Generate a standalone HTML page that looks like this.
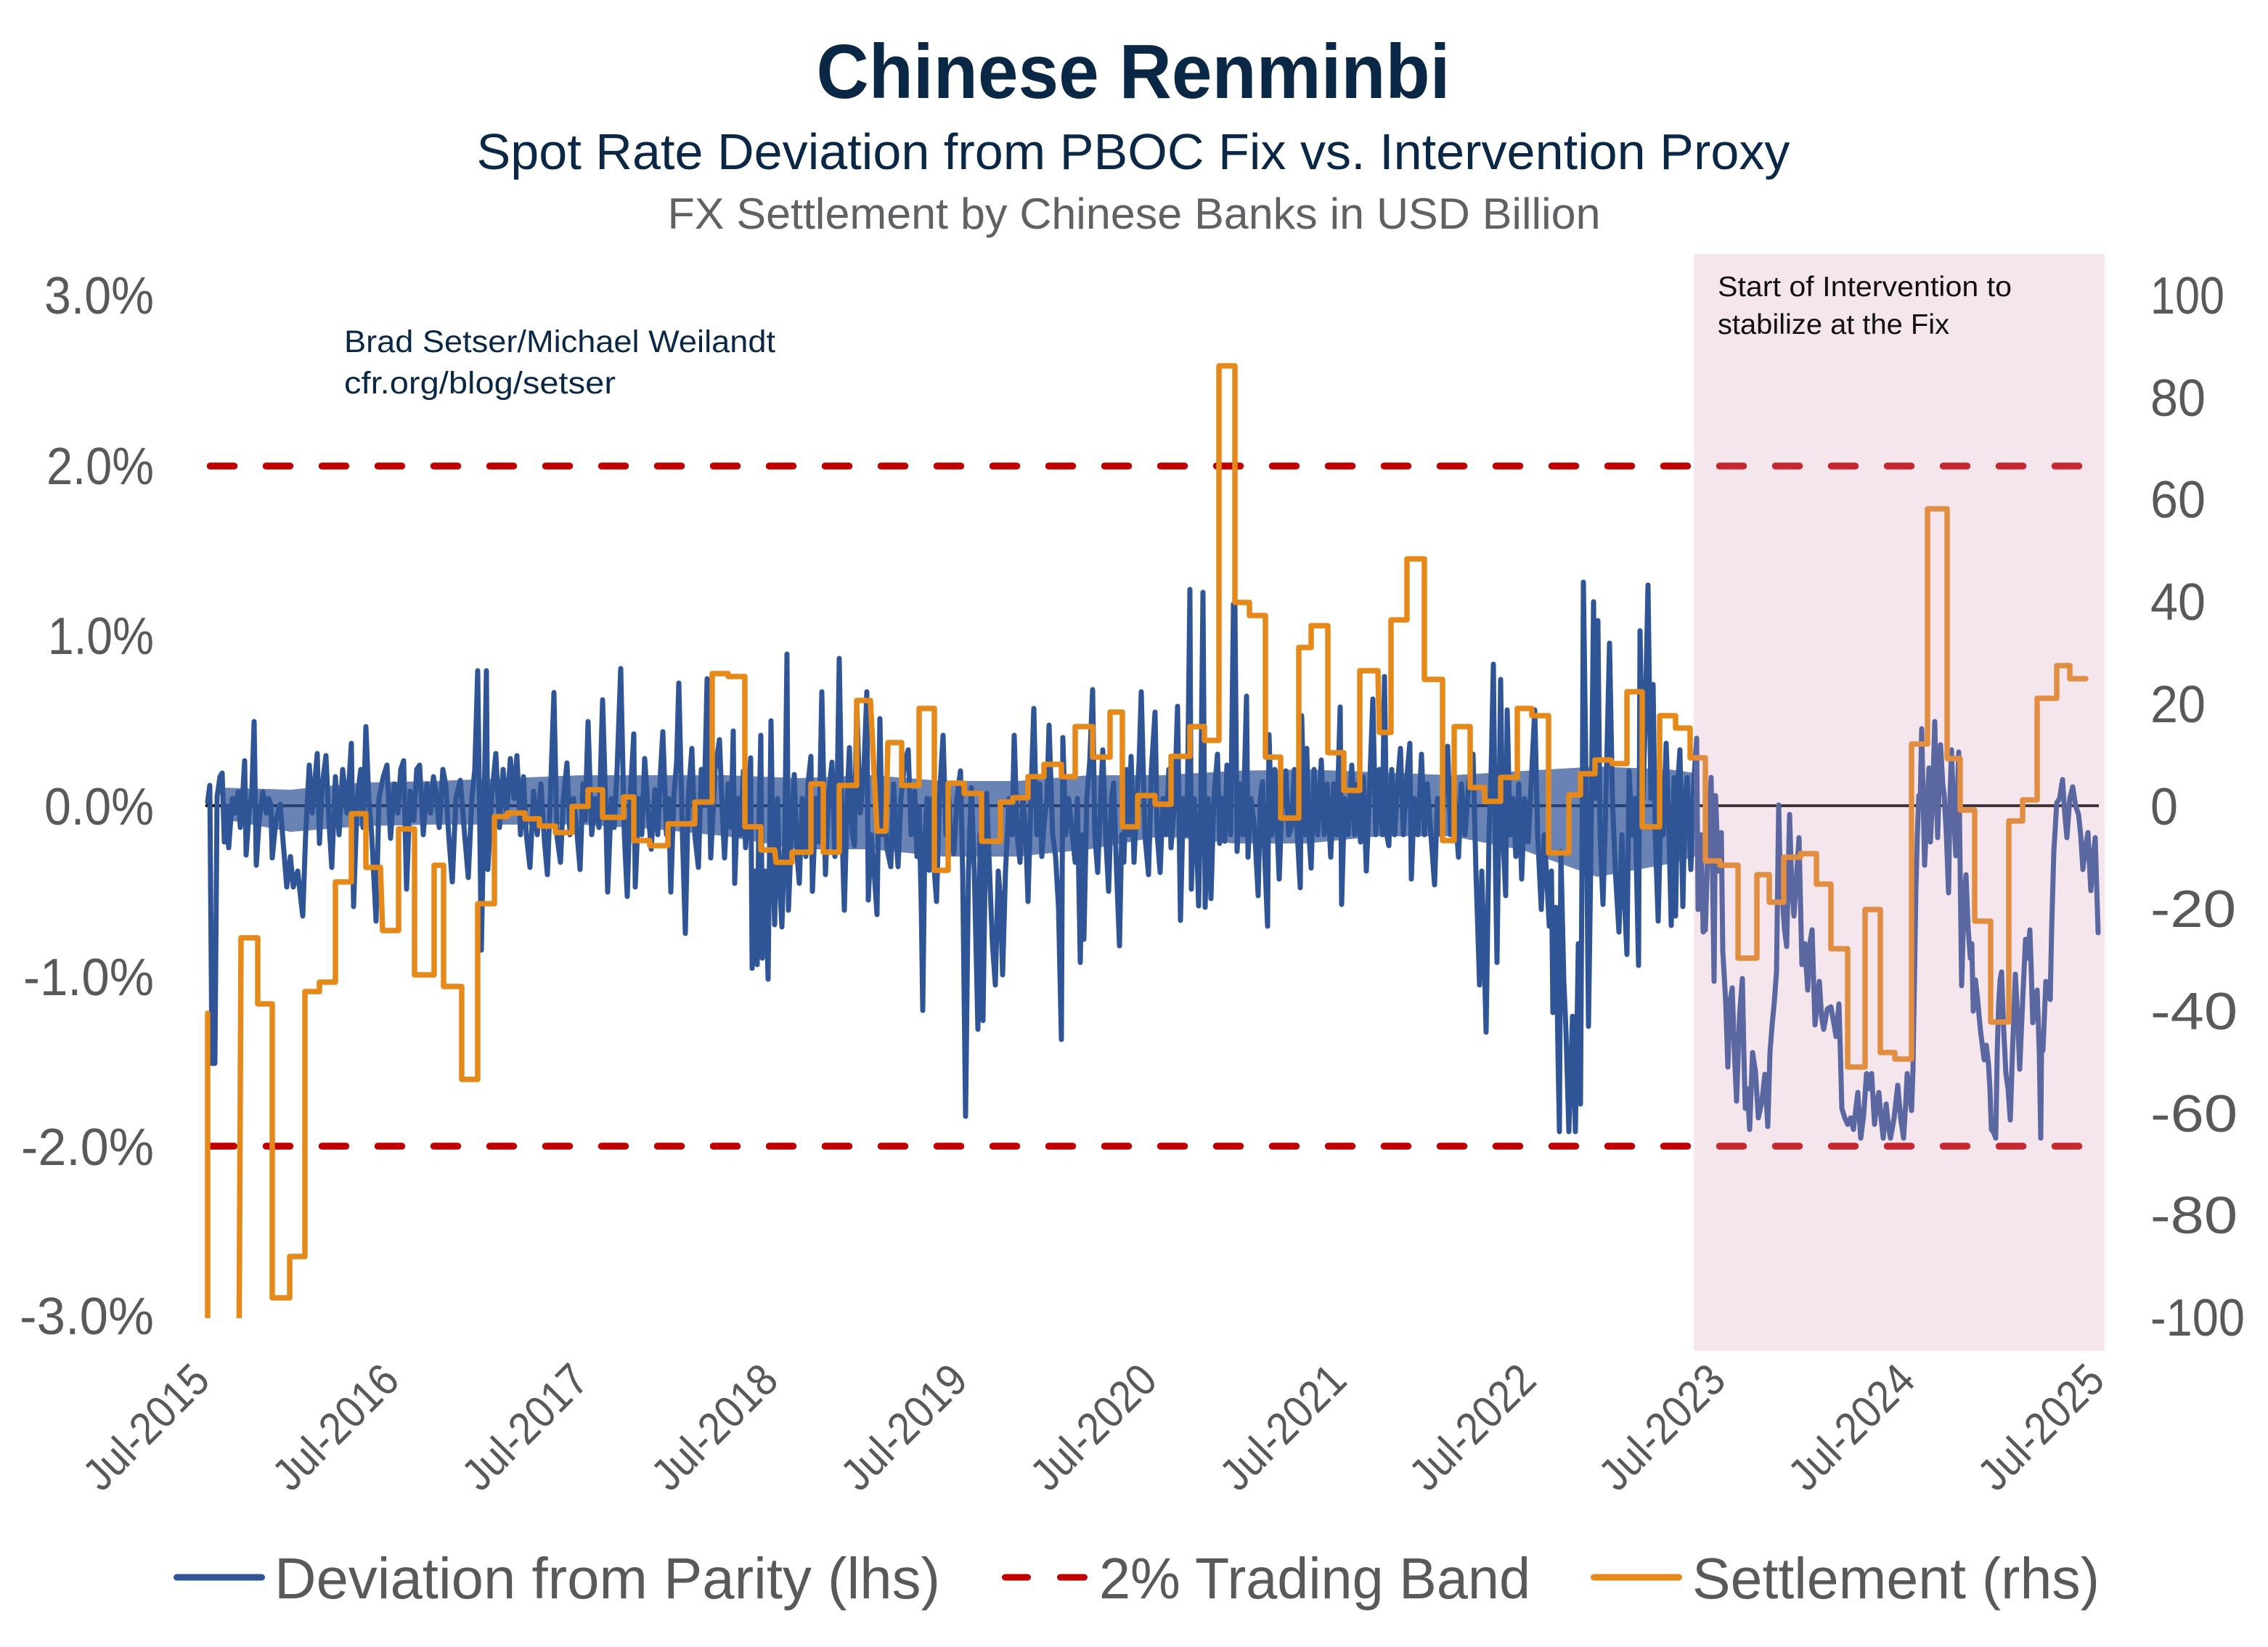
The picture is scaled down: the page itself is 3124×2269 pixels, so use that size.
<!DOCTYPE html>
<html><head><meta charset="utf-8"><style>
html,body{margin:0;padding:0;background:#fff;}
svg{display:block;}
text{font-family:"Liberation Sans",sans-serif;}
</style></head><body>
<svg width="3124" height="2269" viewBox="0 0 3124 2269" xmlns="http://www.w3.org/2000/svg">
<defs><clipPath id="pc"><rect x="270" y="380" width="2640" height="1436"/></clipPath></defs>
<rect width="3124" height="2269" fill="#fff"/>
<!-- titles -->
<text x="1561" y="135" font-size="106" font-weight="bold" fill="#0a2845" text-anchor="middle" textLength="873" lengthAdjust="spacingAndGlyphs">Chinese Renminbi</text>
<text x="1561" y="233" font-size="70" fill="#0a2845" text-anchor="middle" textLength="1809" lengthAdjust="spacingAndGlyphs">Spot Rate Deviation from PBOC Fix vs. Intervention Proxy</text>
<text x="1562" y="315" font-size="60" fill="#5f6164" text-anchor="middle" textLength="1285" lengthAdjust="spacingAndGlyphs">FX Settlement by Chinese Banks in USD Billion</text>
<!-- credits -->
<text x="474" y="485" font-size="43" fill="#0a2845" textLength="594" lengthAdjust="spacingAndGlyphs">Brad Setser/Michael Weilandt</text>
<text x="474" y="542" font-size="43" fill="#0a2845" textLength="374" lengthAdjust="spacingAndGlyphs">cfr.org/blog/setser</text>
<!-- left axis -->
<g font-size="72" fill="#595959" text-anchor="end">
<text x="212" y="432" textLength="151" lengthAdjust="spacingAndGlyphs">3.0%</text>
<text x="212" y="667" textLength="148" lengthAdjust="spacingAndGlyphs">2.0%</text>
<text x="212" y="901" textLength="146" lengthAdjust="spacingAndGlyphs">1.0%</text>
<text x="212" y="1136" textLength="151" lengthAdjust="spacingAndGlyphs">0.0%</text>
<text x="212" y="1371" textLength="180" lengthAdjust="spacingAndGlyphs">-1.0%</text>
<text x="212" y="1605" textLength="183" lengthAdjust="spacingAndGlyphs">-2.0%</text>
<text x="212" y="1838" textLength="185" lengthAdjust="spacingAndGlyphs">-3.0%</text>
</g>
<!-- right axis -->
<g font-size="72" fill="#595959">
<text x="2962" y="432" textLength="102" lengthAdjust="spacingAndGlyphs">100</text>
<text x="2962" y="573" textLength="76" lengthAdjust="spacingAndGlyphs">80</text>
<text x="2962" y="713" textLength="76" lengthAdjust="spacingAndGlyphs">60</text>
<text x="2962" y="854" textLength="76" lengthAdjust="spacingAndGlyphs">40</text>
<text x="2962" y="995" textLength="76" lengthAdjust="spacingAndGlyphs">20</text>
<text x="2962" y="1136" textLength="38" lengthAdjust="spacingAndGlyphs">0</text>
<text x="2962" y="1277" textLength="118" lengthAdjust="spacingAndGlyphs">-20</text>
<text x="2962" y="1418" textLength="120" lengthAdjust="spacingAndGlyphs">-40</text>
<text x="2962" y="1559" textLength="120" lengthAdjust="spacingAndGlyphs">-60</text>
<text x="2962" y="1699" textLength="120" lengthAdjust="spacingAndGlyphs">-80</text>
<text x="2962" y="1840" textLength="130" lengthAdjust="spacingAndGlyphs">-100</text>
</g>
<!-- x labels -->
<g font-size="62" fill="#595959" text-anchor="end">
<text transform="translate(292,1905) rotate(-45)" textLength="215" lengthAdjust="spacingAndGlyphs">Jul-2015</text>
<text transform="translate(553,1905) rotate(-45)" textLength="215" lengthAdjust="spacingAndGlyphs">Jul-2016</text>
<text transform="translate(814,1905) rotate(-45)" textLength="215" lengthAdjust="spacingAndGlyphs">Jul-2017</text>
<text transform="translate(1075,1905) rotate(-45)" textLength="215" lengthAdjust="spacingAndGlyphs">Jul-2018</text>
<text transform="translate(1336,1905) rotate(-45)" textLength="215" lengthAdjust="spacingAndGlyphs">Jul-2019</text>
<text transform="translate(1597,1905) rotate(-45)" textLength="215" lengthAdjust="spacingAndGlyphs">Jul-2020</text>
<text transform="translate(1858,1905) rotate(-45)" textLength="215" lengthAdjust="spacingAndGlyphs">Jul-2021</text>
<text transform="translate(2119,1905) rotate(-45)" textLength="215" lengthAdjust="spacingAndGlyphs">Jul-2022</text>
<text transform="translate(2380,1905) rotate(-45)" textLength="215" lengthAdjust="spacingAndGlyphs">Jul-2023</text>
<text transform="translate(2641,1905) rotate(-45)" textLength="215" lengthAdjust="spacingAndGlyphs">Jul-2024</text>
<text transform="translate(2902,1905) rotate(-45)" textLength="215" lengthAdjust="spacingAndGlyphs">Jul-2025</text>
</g>
<!-- zero line -->
<line x1="283" y1="1110" x2="2891" y2="1110" stroke="#111" stroke-width="4"/>
<!-- band -->
<line x1="289.5" y1="642" x2="2895" y2="642" stroke="#c00000" stroke-width="9.5" stroke-dasharray="33 44" stroke-linecap="round"/>
<line x1="289.5" y1="1579" x2="2895" y2="1579" stroke="#c00000" stroke-width="9.5" stroke-dasharray="33 44" stroke-linecap="round"/>
<g clip-path="url(#pc)">
<polygon fill="#2f5597" fill-opacity="0.72" points="305,1085 400,1088 500,1078 600,1076 700,1072 800,1068 900,1068 1000,1068 1100,1072 1200,1068 1300,1076 1400,1076 1500,1068 1600,1068 1700,1062 1800,1060 1900,1064 2000,1068 2100,1062 2200,1056 2300,1060 2335,1065 2335,1180 2300,1190 2200,1208 2100,1172 2000,1152 1900,1152 1800,1162 1700,1162 1600,1152 1500,1170 1400,1180 1300,1180 1200,1170 1100,1170 1000,1152 900,1142 800,1136 700,1136 600,1136 500,1138 400,1146 305,1128"/>
<polyline fill="none" stroke="#2f5597" stroke-width="7" stroke-linejoin="round" stroke-linecap="round" points="286,1105 289,1082 292,1465 296,1465 299,1098 303,1070 306,1065 309,1160 312,1110 315,1168 320,1100 324,1120 328,1091 331,1140 334,1100 337,1048 339,1178 343,1120 347,1090 350,994 353,1192 357,1130 362,1091 367,1120 370,1100 373,1108 375,1182 380,1130 386,1108 390,1160 395,1222 400,1180 404,1222 410,1200 417,1262 421,1150 426,1054 430,1120 437,1038 440,1162 444,1080 449,1041 453,1130 457,1195 462,1070 467,1150 472,1060 478,1120 484,1024 487,1249 492,1100 497,1060 500,1140 504,1001 508,1100 512,1150 518,1269 522,1100 528,1070 533,1054 538,1155 543,1080 548,1120 552,1060 556,1048 560,1225 565,1090 570,1130 574,1060 578,1054 583,1150 588,1080 593,1120 597,1070 600,1088 605,1140 610,1060 614,1081 618,1150 623,1215 628,1100 634,1075 640,1150 645,1209 650,1100 654,1060 658,924 661,1150 663,1309 667,1100 670,924 672,1198 677,1100 683,1038 688,1140 693,1060 698,1120 703,1045 708,1100 712,1041 717,1150 721,1070 725,1150 730,1195 735,1090 740,1150 745,1080 750,1160 754,1205 758,1100 763,954 767,1150 772,1188 776,1100 781,1051 785,1150 790,1100 795,1150 799,1198 803,1080 806,1130 810,994 815,1150 820,1100 825,1140 830,964 834,1100 837,1229 842,1100 846,1140 850,1060 855,921 860,1150 864,1235 868,1100 873,1011 875,1222 880,1100 884,1150 888,1045 893,1120 897,1170 902,1088 906,1150 910,1060 913,1008 918,1150 921,1100 924,1229 928,1100 932,1050 935,941 940,1150 944,1286 948,1100 953,1031 957,1150 962,1195 966,1060 970,1110 974,935 979,1182 985,1060 991,1019 995,1120 998,1182 1003,1080 1007,1140 1010,1007 1012,1217 1016,1100 1020,1150 1024,1062 1027,1168 1031,1100 1034,1044 1036,1334 1040,1200 1043,1329 1045,1150 1048,1013 1050,1320 1054,1200 1058,1349 1062,993 1065,1200 1067,1274 1071,1100 1074,1220 1077,1277 1081,1150 1084,901 1086,1254 1090,1150 1094,1067 1098,1180 1101,1217 1105,1100 1110,1180 1113,1080 1117,1042 1119,1228 1124,1100 1128,1160 1132,953 1137,1205 1141,1100 1146,1050 1150,1180 1153,1100 1156,907 1160,1150 1163,1254 1167,1100 1170,1030 1174,1150 1177,1165 1180,970 1185,1120 1190,1060 1194,953 1196,1240 1200,1150 1204,1200 1208,1260 1212,990 1215,1150 1218,1096 1222,1170 1227,1194 1231,1080 1234,1150 1237,1194 1241,1100 1246,1050 1251,1033 1255,1150 1260,1090 1263,1180 1266,1113 1269,1250 1271,1392 1274,1150 1277,1100 1280,1199 1284,1100 1287,1200 1290,1242 1294,1100 1299,1013 1303,1150 1307,1100 1310,1160 1314,1176 1318,1100 1323,1062 1326,1200 1330,1538 1334,1200 1338,1085 1342,1200 1347,1418 1350,1150 1352,1217 1354,1406 1357,1200 1359,1093 1363,1200 1367,1300 1371,1357 1375,1200 1378,1240 1381,1343 1385,1200 1390,1100 1394,1150 1397,1013 1401,1150 1405,1188 1409,1100 1413,1150 1416,1242 1420,1100 1424,976 1428,1150 1432,1080 1435,1180 1438,1136 1442,1100 1445,999 1450,1150 1454,1180 1458,1250 1462,1432 1464,1016 1468,1150 1472,1100 1477,1150 1481,1188 1484,1100 1488,1326 1491,1150 1493,1294 1497,1100 1501,1050 1505,950 1508,1150 1512,1202 1516,1100 1519,1033 1523,1150 1527,1228 1531,1100 1534,1079 1538,1200 1542,1303 1545,1150 1548,1188 1552,1060 1555,1150 1558,1042 1562,1188 1566,1100 1569,1050 1572,953 1577,1150 1582,1205 1586,1060 1591,981 1594,1150 1598,1202 1602,1100 1606,1150 1610,1060 1613,1168 1618,1100 1622,973 1626,1268 1630,1100 1635,1150 1639,812 1641,1225 1645,1100 1648,1150 1651,1248 1654,1100 1657,816 1660,1250 1664,1100 1668,1238 1672,1100 1677,1039 1680,1162 1683,1100 1687,1159 1690,1054 1695,1150 1699,832 1701,832 1704,1173 1708,1080 1712,1150 1717,959 1719,1181 1723,1100 1728,1140 1733,1234 1736,1100 1739,1077 1742,1180 1746,1276 1748,1012 1752,1150 1756,1060 1762,1211 1766,1100 1771,1062 1775,1150 1779,1139 1783,1060 1787,1150 1791,1223 1793,986 1797,1150 1800,1031 1803,1150 1806,1196 1810,1060 1815,1150 1820,1047 1824,1150 1828,1080 1833,1181 1837,1080 1841,1150 1846,974 1848,1246 1852,1100 1857,1150 1862,1054 1866,1150 1870,1080 1874,1160 1878,1070 1882,1200 1886,1100 1891,963 1895,1150 1900,1060 1904,1150 1907,932 1910,1150 1913,1165 1917,1060 1921,1150 1925,1080 1929,1031 1933,1150 1937,1080 1942,1024 1944,1211 1948,1100 1953,1150 1958,1039 1962,1150 1966,1080 1971,1150 1976,1219 1980,1100 1985,1150 1990,1080 1994,1028 1998,1150 2003,1080 2006,1140 2009,1181 2013,1080 2018,1150 2023,1080 2029,1039 2033,1200 2038,1357 2041,1200 2044,1300 2047,1422 2051,1150 2054,1060 2057,915 2060,1200 2062,1326 2065,1100 2067,936 2070,1150 2074,1234 2076,978 2080,1150 2084,1100 2088,1180 2092,1080 2096,1211 2100,1100 2105,1160 2110,1060 2114,978 2118,1150 2123,1253 2127,1150 2130,1200 2134,1276 2137,1200 2139,1395 2143,1250 2146,1450 2148,1559 2150,1173 2154,1350 2157,1420 2161,1559 2163,1494 2166,1400 2170,1559 2174,1300 2177,1521 2179,1200 2181,802 2185,1100 2188,1414 2191,1200 2195,829 2198,1100 2201,855 2204,1150 2208,1246 2212,1100 2217,886 2221,1100 2225,1200 2230,1284 2234,1150 2238,1250 2241,1315 2244,1062 2248,1150 2252,1100 2255,1238 2257,1330 2259,869 2263,1100 2266,1000 2270,806 2274,1100 2277,943 2280,1150 2284,1269 2288,1100 2291,1150 2295,1024 2299,1150 2302,1275 2306,1071 2308,1262 2311,1080 2314,1033 2318,1249 2321,1100 2324,1071 2327,1150 2329,1198 2333,1080 2337,1017 2339,1253 2343,1150 2346,1284 2349,1281 2353,1150 2357,1071 2361,1352 2363,1096 2367,1200 2371,1147 2373,1310 2377,1380 2380,1470 2383,1380 2386,1361 2389,1450 2392,1517 2396,1400 2400,1348 2402,1450 2404,1527 2407,1500 2410,1556 2414,1450 2418,1476 2422,1540 2427,1517 2431,1480 2435,1552 2438,1450 2441,1412 2444,1380 2447,1339 2450,1109 2452,1200 2455,1237 2458,1280 2461,1304 2465,1122 2468,1220 2471,1262 2475,1200 2478,1154 2482,1329 2486,1300 2490,1364 2493,1300 2496,1281 2500,1412 2503,1380 2506,1352 2509,1400 2512,1418 2517,1390 2522,1387 2526,1410 2529,1428 2533,1383 2535,1450 2537,1527 2541,1540 2545,1549 2549,1540 2553,1556 2556,1530 2559,1505 2563,1568 2567,1537 2571,1479 2575,1500 2578,1479 2582,1549 2585,1520 2588,1505 2591,1540 2594,1568 2598,1521 2601,1550 2604,1568 2609,1540 2614,1495 2618,1540 2622,1568 2625,1520 2627,1479 2631,1510 2633,1530 2635,1473 2637,1350 2639,1224 2641,1150 2643,1096 2645,1100 2647,1004 2649,1100 2651,1192 2654,1120 2657,1058 2659,1160 2662,1100 2665,994 2667,1080 2669,1154 2671,1080 2673,1026 2676,1080 2678,1096 2681,1150 2684,1230 2686,1100 2688,1033 2691,1120 2694,1179 2696,1100 2698,1036 2700,1200 2702,1358 2705,1250 2708,1205 2711,1280 2714,1320 2716,1300 2718,1393 2721,1350 2724,1377 2728,1420 2733,1460 2736,1440 2739,1466 2741,1500 2743,1556 2746,1560 2749,1568 2751,1450 2753,1383 2755,1350 2757,1339 2760,1420 2763,1479 2766,1500 2769,1543 2772,1450 2776,1342 2779,1400 2782,1473 2786,1380 2790,1294 2793,1320 2796,1281 2798,1340 2800,1409 2803,1380 2806,1364 2809,1450 2811,1568 2812,1450 2814,1447 2816,1400 2818,1352 2821,1370 2824,1377 2826,1280 2829,1173 2831,1140 2833,1106 2837,1100 2841,1074 2844,1120 2847,1154 2851,1100 2855,1084 2859,1110 2863,1122 2866,1150 2869,1198 2872,1170 2876,1147 2878,1190 2880,1227 2883,1180 2886,1154 2888,1220 2890,1285"/>
<polyline fill="none" stroke="#e58a1a" stroke-width="7.5" stroke-linejoin="round" stroke-linecap="round" points="286,1396 286,1900 329,1900 332,1292 355,1292 355,1383 375,1383 375,1788 399,1788 399,1731 420,1731 420,1366 440,1366 440,1353 462,1353 462,1215 484,1215 484,1121 504,1121 504,1195 524,1195 527,1282 549,1282 549,1142 571,1142 571,1343 598,1343 598,1192 611,1192 611,1359 636,1359 636,1487 658,1487 658,1245 681,1245 681,1125 699,1125 699,1120 723,1120 723,1128 743,1128 743,1138 765,1138 765,1147 788,1147 788,1111 810,1111 810,1088 830,1088 830,1126 859,1126 859,1098 873,1098 873,1158 895,1158 895,1165 920,1165 920,1135 957,1135 957,1105 981,1105 981,928 1003,928 1003,932 1026,932 1026,1139 1048,1139 1048,1171 1067,1171 1069,1188 1091,1188 1091,1174 1117,1174 1117,1080 1134,1080 1134,1174 1156,1174 1156,1082 1180,1082 1180,965 1199,965 1208,1145 1220,1145 1223,1023 1242,1023 1242,1082 1266,1082 1266,976 1287,976 1287,1199 1306,1199 1306,1079 1328,1079 1328,1093 1352,1093 1352,1159 1378,1159 1378,1105 1395,1105 1395,1099 1416,1099 1416,1070 1438,1070 1438,1053 1462,1053 1462,1070 1481,1070 1481,1001 1505,1001 1505,1043 1529,1043 1529,981 1546,981 1546,1139 1567,1139 1567,1096 1591,1096 1591,1108 1613,1108 1613,1042 1639,1042 1639,1001 1659,1001 1659,1020 1679,1020 1679,504 1701,504 1701,830 1721,830 1721,848 1743,848 1743,1043 1764,1043 1764,1127 1789,1127 1789,892 1806,892 1806,862 1829,862 1829,1037 1851,1037 1851,1089 1873,1089 1873,924 1898,924 1900,1009 1916,1009 1916,854 1938,854 1938,770 1962,770 1962,936 1987,936 1987,1158 2003,1158 2003,1001 2025,1001 2025,1085 2045,1085 2045,1104 2067,1104 2067,1071 2090,1071 2090,976 2110,976 2110,986 2133,986 2133,1175 2161,1175 2161,1095 2177,1095 2177,1066 2197,1066 2197,1047 2219,1047 2221,1052 2241,1052 2241,953 2262,953 2262,1139 2286,1139 2286,986 2308,986 2308,1003 2328,1003 2328,1044 2349,1044 2349,1186 2369,1186 2369,1192 2394,1192 2394,1320 2420,1320 2420,1205 2437,1205 2437,1243 2457,1243 2457,1181 2480,1181 2480,1176 2502,1176 2502,1218 2522,1218 2522,1307 2545,1307 2545,1470 2569,1470 2569,1253 2590,1253 2590,1450 2610,1450 2610,1459 2633,1459 2633,1025 2655,1025 2655,701 2682,701 2682,1045 2700,1045 2700,1116 2720,1116 2720,1269 2742,1269 2742,1408 2767,1408 2767,1131 2786,1131 2786,1102 2806,1102 2806,962 2833,962 2833,917 2851,917 2851,935 2873,935"/>
</g>
<!-- shaded overlay -->
<rect x="2333" y="350" width="566" height="1511" fill="rgb(216,157,188)" fill-opacity="0.255"/>
<text x="2366" y="408" font-size="39" fill="#111" textLength="405" lengthAdjust="spacingAndGlyphs">Start of Intervention to</text>
<text x="2366" y="460" font-size="39" fill="#111" textLength="319" lengthAdjust="spacingAndGlyphs">stabilize at the Fix</text>
<!-- legend -->
<line x1="243.5" y1="2173" x2="360.5" y2="2173" stroke="#2f5597" stroke-width="9" stroke-linecap="round"/>
<text x="378" y="2202" font-size="80" fill="#595959" textLength="917" lengthAdjust="spacingAndGlyphs">Deviation from Parity (lhs)</text>
<line x1="1384.5" y1="2173" x2="1415.5" y2="2173" stroke="#c00000" stroke-width="9" stroke-linecap="round"/>
<line x1="1460.5" y1="2173" x2="1493.5" y2="2173" stroke="#c00000" stroke-width="9" stroke-linecap="round"/>
<text x="1514" y="2202" font-size="80" fill="#595959" textLength="594" lengthAdjust="spacingAndGlyphs">2% Trading Band</text>
<line x1="2195.5" y1="2173" x2="2312.5" y2="2173" stroke="#e58a1a" stroke-width="9" stroke-linecap="round"/>
<text x="2331" y="2202" font-size="80" fill="#595959" textLength="561" lengthAdjust="spacingAndGlyphs">Settlement (rhs)</text>
</svg>
</body></html>
